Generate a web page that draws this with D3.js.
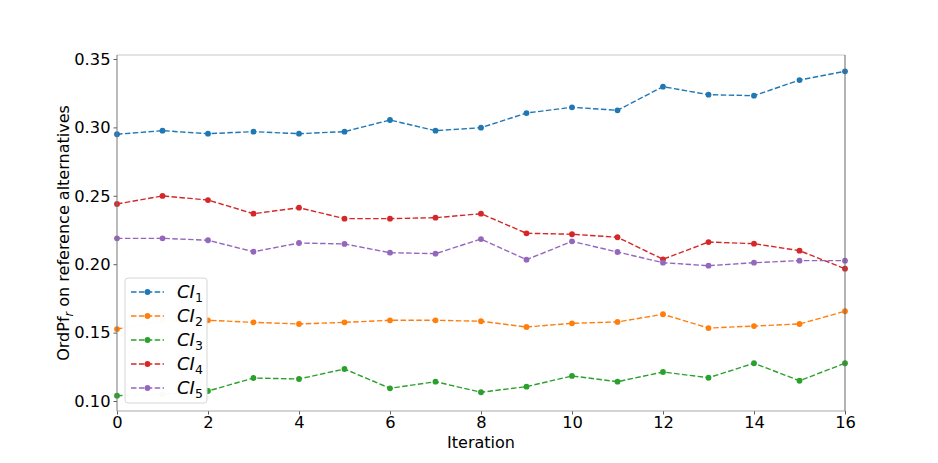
<!DOCTYPE html>
<html><head><meta charset="utf-8">
<script src="https://cdn.jsdelivr.net/npm/d3@7"></script>
<style>body{margin:0;background:#fff}svg{display:block}</style>
</head><body><svg id="c" width="938" height="463"></svg>
<script>
const iterations = d3.range(0, 17);
const seriesNames = ["1", "2", "3", "4", "5"];
const colors = ["#1f77b4", "#ff7f0e", "#2ca02c", "#d62728", "#9467bd"];
const ci1 = [0.2950, 0.2976, 0.2954, 0.2969, 0.2954, 0.2969, 0.3054, 0.2976, 0.2998, 0.3105, 0.3147, 0.3125, 0.3298, 0.3239, 0.3232, 0.3346, 0.3410];
const ci2 = [0.1526, 0.1585, 0.1590, 0.1575, 0.1563, 0.1575, 0.1590, 0.1590, 0.1583, 0.1541, 0.1568, 0.1578, 0.1634, 0.1533, 0.1548, 0.1563, 0.1656];
const ci3 = [0.1039, 0.1050, 0.1073, 0.1168, 0.1161, 0.1234, 0.1093, 0.1141, 0.1064, 0.1105, 0.1183, 0.1141, 0.1212, 0.1170, 0.1276, 0.1148, 0.1276];
const ci4 = [0.2440, 0.2499, 0.2469, 0.2369, 0.2413, 0.2333, 0.2333, 0.2340, 0.2369, 0.2226, 0.2219, 0.2197, 0.2036, 0.2162, 0.2150, 0.2099, 0.1967];
const ci5 = [0.2189, 0.2189, 0.2175, 0.2091, 0.2155, 0.2148, 0.2084, 0.2077, 0.2184, 0.2033, 0.2167, 0.2089, 0.2011, 0.1989, 0.2011, 0.2026, 0.2026];
const series = [ci1, ci2, ci3, ci4, ci5];
const xTicks = [0, 2, 4, 6, 8, 10, 12, 14, 16];
const yTicks = [0.10, 0.15, 0.20, 0.25, 0.30, 0.35];

const svg = d3.select("#c");
const L = 117, R = 845, T = 55, B = 411;
const x = d3.scaleLinear().domain([0, 16]).range([L, R]);
const y = d3.scaleLinear().domain([0.10, 0.35]).range([401, 59]);
const font = "DejaVu Sans, sans-serif";

// axes
const gx = svg.append("g").attr("transform", `translate(0,${B})`)
  .call(d3.axisBottom(x).tickValues(xTicks).tickFormat(d3.format("d")).tickSize(3.5).tickPadding(2));
const gy = svg.append("g").attr("transform", `translate(${L},0)`)
  .call(d3.axisLeft(y).tickValues(yTicks).tickFormat(d3.format(".2f")).tickSize(3.5).tickPadding(3));
[gx, gy].forEach(g => {
  g.select(".domain").remove();
  g.selectAll(".tick line").attr("stroke", "#333").attr("stroke-width", 0.8);
  g.selectAll(".tick text").attr("font-family", font).attr("font-size", 16.3).attr("fill", "#000");
});

// lines
const line = d3.line().x((d, i) => x(iterations[i])).y(d => y(d));
series.forEach((s, k) => {
  svg.append("path").datum(s).attr("d", line).attr("fill", "none")
    .attr("stroke", colors[k]).attr("stroke-width", 1.4).attr("stroke-dasharray", "5.5,2.4");
  svg.append("g").selectAll("circle").data(s).join("circle")
    .attr("cx", (d, i) => x(iterations[i])).attr("cy", d => y(d)).attr("r", 2.9)
    .attr("fill", colors[k]);
});

// spines
svg.append("line").attr("x1", L).attr("x2", R).attr("y1", T).attr("y2", T).attr("stroke", "#c8c8c8").attr("stroke-width", 1);
svg.append("line").attr("x1", L).attr("x2", R).attr("y1", B).attr("y2", B).attr("stroke", "#a8a8a8").attr("stroke-width", 1);
svg.append("line").attr("x1", L).attr("x2", L).attr("y1", T).attr("y2", B).attr("stroke", "#777").attr("stroke-width", 1);
svg.append("line").attr("x1", R).attr("x2", R).attr("y1", T).attr("y2", B).attr("stroke", "#666").attr("stroke-width", 1);

// labels
svg.append("text").attr("x", (L + R) / 2).attr("y", 448).attr("text-anchor", "middle")
  .attr("font-family", font).attr("font-size", 16).text("Iteration");
const yl = svg.append("text").attr("transform", `translate(69,${(T + B) / 2}) rotate(-90)`)
  .attr("text-anchor", "middle").attr("font-family", font).attr("font-size", 16);
yl.append("tspan").text("OrdPf");
yl.append("tspan").attr("font-size", 11.5).attr("font-style", "italic").attr("dy", 3.5).text("r");
yl.append("tspan").attr("dy", -3.5).text(" on reference alternatives");

// legend
const lg = svg.append("g");
lg.append("rect").attr("x", 125).attr("y", 278).attr("width", 82).attr("height", 125).attr("rx", 3)
  .attr("fill", "#fff").attr("fill-opacity", 0.97).attr("stroke", "#d6d6d6").attr("stroke-width", 1);
seriesNames.forEach((n, k) => {
  const yy = 292 + k * 24;
  lg.append("line").attr("x1", 131).attr("x2", 164).attr("y1", yy).attr("y2", yy)
    .attr("stroke", colors[k]).attr("stroke-width", 1.4).attr("stroke-dasharray", "5.5,2.4");
  lg.append("circle").attr("cx", 147.5).attr("cy", yy).attr("r", 2.9).attr("fill", colors[k]);
  const t = lg.append("text").attr("x", 177).attr("y", yy + 6).attr("font-family", font).attr("font-size", 18);
  t.append("tspan").attr("font-style", "italic").text("CI");
  t.append("tspan").attr("font-size", 12.5).attr("dy", 4).text(n);
});
</script></body></html>
